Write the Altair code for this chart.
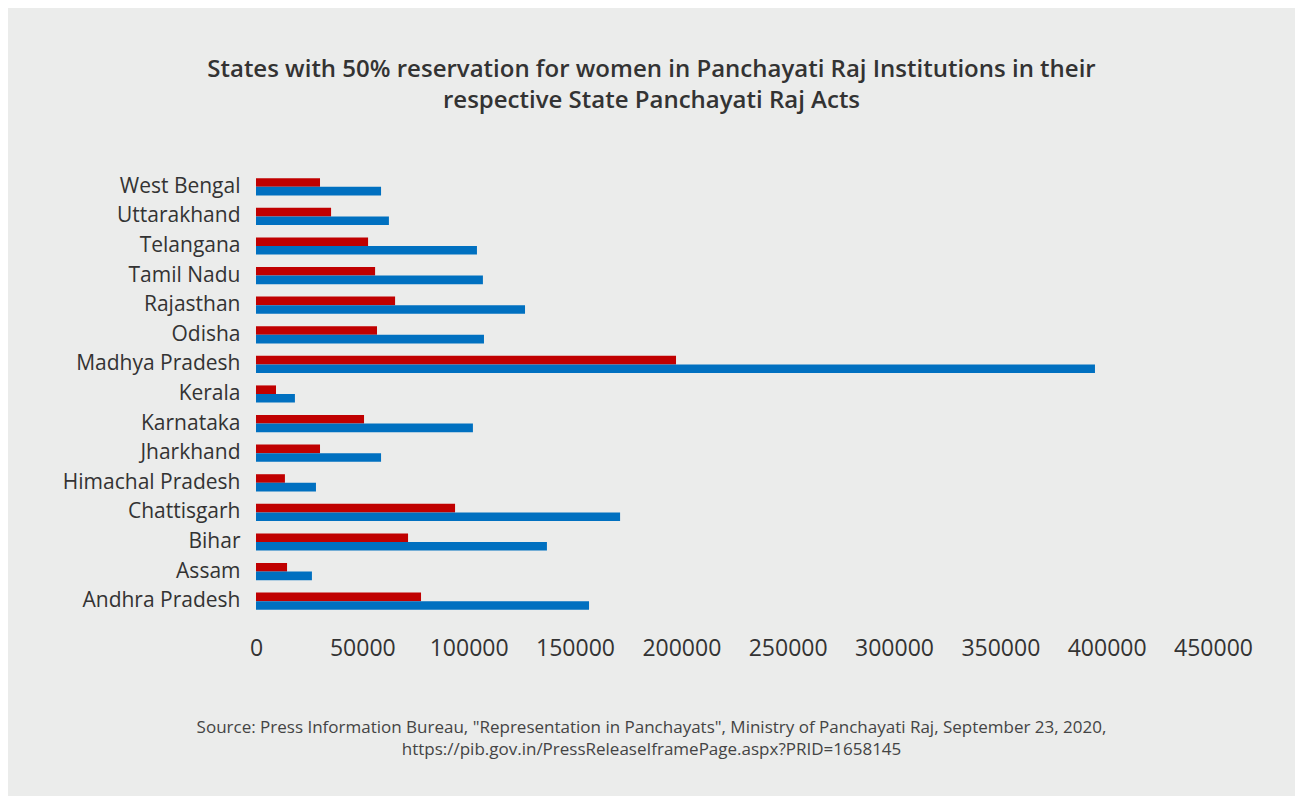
import altair as alt
import pandas as pd

states = ["West Bengal", "Uttarakhand", "Telangana", "Tamil Nadu", "Rajasthan",
          "Odisha", "Madhya Pradesh", "Kerala", "Karnataka", "Jharkhand",
          "Himachal Pradesh", "Chattisgarh", "Bihar", "Assam", "Andhra Pradesh"]
women = [30100, 35300, 52700, 56000, 65400, 56900, 197500, 9400, 50800, 30100,
         13600, 93600, 71500, 14600, 77600]
total = [58800, 62500, 103900, 106700, 126500, 107200, 394500, 18300, 102000, 58800,
         28200, 171200, 136800, 26300, 156600]
series = ["Women", "Total"]
colors = ["#c00000", "#0070c0"]
ticks = [0, 50000, 100000, 150000, 200000, 250000, 300000, 350000, 400000, 450000]
title_lines = ["States with  50% reservation for women in Panchayati Raj Institutions in their",
               "respective State Panchayati Raj Acts"]
source_lines = ['Source: Press Information Bureau, "Representation in Panchayats", Ministry of Panchayati Raj, September 23, 2020,',
                "https://pib.gov.in/PressReleaseIframePage.aspx?PRID=1658145"]

rows = []
for s, w, t in zip(states, women, total):
    rows.append({"State": s, "Series": "Women", "Value": w})
    rows.append({"State": s, "Series": "Total", "Value": t})
df = pd.DataFrame(rows)

FONT = "Open Sans"

chart = alt.Chart(df).mark_bar().encode(
    y=alt.Y("State:N", sort=states,
            scale=alt.Scale(paddingInner=0.42, paddingOuter=0.21),
            axis=alt.Axis(title=None, domain=False, ticks=False, labelPadding=16,
                          labelFontSize=21, labelLimit=400, labelColor="#333333",
                          labelFont=FONT)),
    yOffset=alt.YOffset("Series:N", sort=series, scale=alt.Scale(paddingInner=0, paddingOuter=0)),
    x=alt.X("Value:Q", scale=alt.Scale(domain=[0, 450000], nice=False),
            axis=alt.Axis(values=ticks, format="d", domain=False, ticks=False, grid=False,
                          labelFlush=False, labelPadding=21, labelFontSize=23,
                          labelColor="#333333", labelFont=FONT,
                          title=source_lines, titleFont=FONT, titleFontSize=17,
                          titleFontWeight="normal", titleColor="#444444",
                          titleLineHeight=22, titleBaseline="alphabetic",
                          titleX=395, titleY=116)),
    color=alt.Color("Series:N", sort=series,
                    scale=alt.Scale(domain=series, range=colors), legend=None),
).properties(
    width=957, height=444,
    background="#ebeceb",
    padding={"left": 248, "top": 164, "right": 82, "bottom": 180},
    autosize=alt.AutoSizeParams(type="none"),
    title=alt.TitleParams(text=title_lines, font=FONT, fontSize=24, fontWeight=600,
                          color="#333333", anchor="middle", dx=-83, offset=59,
                          lineHeight=31),
).configure_view(stroke=None)

chart.save("out.html", embed_options={"renderer": "svg", "actions": False})
